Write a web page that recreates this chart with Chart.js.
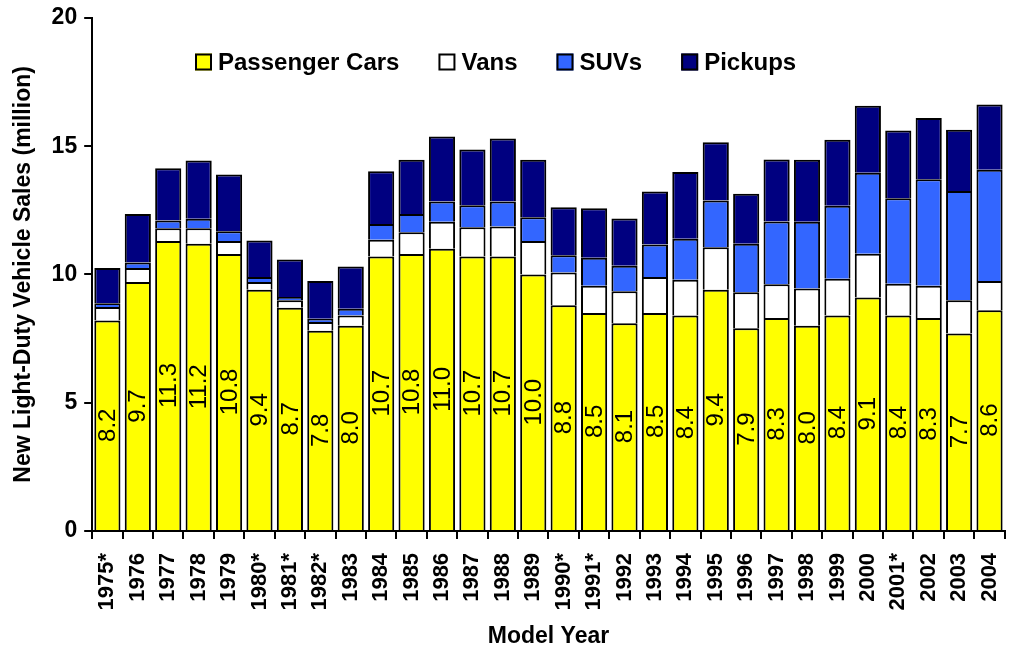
<!DOCTYPE html>
<html>
<head>
<meta charset="utf-8">
<script src="https://cdn.jsdelivr.net/npm/chart.js@4.4.1/dist/chart.umd.min.js"></script>
<style>
  html, body { margin: 0; padding: 0; background: #fff; overflow: hidden; }
  #wrap { width: 1030px; height: 652px; }
</style>
</head>
<body>
<div id="wrap"><canvas id="sales-chart"></canvas></div>
<script>
// LIGHT-DUTY VEHICLE SALES BY TYPE

const years = ['1975*', '1976', '1977', '1978', '1979', '1980*', '1981*', '1982*', '1983', '1984',
    '1985', '1986', '1987', '1988', '1989', '1990*', '1991*', '1992', '1993', '1994',
    '1995', '1996', '1997', '1998', '1999', '2000', '2001*', '2002', '2003', '2004'];

const passengerCars = [8.2, 9.7, 11.3, 11.2, 10.8, 9.4, 8.7, 7.8, 8.0, 10.7,
    10.8, 11.0, 10.7, 10.7, 10.0, 8.8, 8.5, 8.1, 8.5, 8.4,
    9.4, 7.9, 8.3, 8.0, 8.4, 9.1, 8.4, 8.3, 7.7, 8.6];

const vans = [0.53, 0.55, 0.5, 0.6, 0.5, 0.3, 0.29, 0.34, 0.4, 0.65,
    0.84, 1.05, 1.14, 1.17, 1.3, 1.27, 1.06, 1.24, 1.4, 1.39,
    1.66, 1.4, 1.32, 1.45, 1.43, 1.71, 1.24, 1.26, 1.29, 1.14];

const suvs = [0.15, 0.21, 0.3, 0.37, 0.38, 0.2, 0.13, 0.13, 0.26, 0.62,
    0.72, 0.79, 0.86, 0.97, 0.93, 0.68, 1.09, 1.0, 1.27, 1.6,
    1.82, 1.9, 2.44, 2.6, 2.85, 3.15, 3.33, 4.15, 4.26, 4.34];

const pickups = [1.37, 1.9, 2.04, 2.27, 2.22, 1.42, 1.46, 1.47, 1.65, 2.05,
    2.11, 2.54, 2.17, 2.46, 2.24, 1.87, 1.93, 1.84, 2.06, 2.6,
    2.27, 1.94, 2.42, 2.42, 2.57, 2.62, 2.64, 2.39, 2.39, 2.54];

const yTicks = [0, 5, 10, 15, 20];

const FONT = '"Liberation Sans", Arial, sans-serif';
Chart.defaults.font.family = FONT;
Chart.defaults.color = '#000';

// values written inside the yellow segments
const carLabels = {
    id: 'carLabels',
    afterDatasetsDraw(chart) {
        const ctx = chart.ctx;
        const meta = chart.getDatasetMeta(0);
        ctx.save();
        ctx.font = '24px ' + FONT;
        ctx.fillStyle = '#000';
        ctx.textAlign = 'center';
        ctx.textBaseline = 'middle';
        meta.data.forEach(function(bar, i) {
            ctx.save();
            ctx.translate(bar.x + 1, (bar.y + bar.base) / 2);
            ctx.rotate(-Math.PI / 2);
            ctx.fillText(passengerCars[i].toFixed(1), 0, 0);
            ctx.restore();
        });
        ctx.restore();
    }
};

// legend drawn inside the plot area, one row
const insideLegend = {
    id: 'insideLegend',
    afterDraw(chart) {
        const ctx = chart.ctx;
        let x = 195;
        const y = 62;
        ctx.save();
        ctx.font = 'bold 24px ' + FONT;
        ctx.textAlign = 'left';
        ctx.textBaseline = 'middle';
        chart.data.datasets.forEach(function(ds) {
            ctx.fillStyle = ds.backgroundColor;
            ctx.fillRect(x, y - 8.5, 17, 17);
            ctx.lineWidth = 2;
            ctx.strokeStyle = '#000';
            ctx.strokeRect(x + 1, y - 7.5, 15, 15);
            ctx.fillStyle = '#000';
            ctx.fillText(ds.label, x + 23, y + 1);
            x += 23 + ctx.measureText(ds.label).width + 39;
        });
        ctx.restore();
    }
};

function barSet(label, data, color) {
    return {
        label: label,
        data: data,
        backgroundColor: color,
        borderColor: '#000',
        borderWidth: 2,
        categoryPercentage: 1,
        barPercentage: 0.86
    };
}

const chart = new Chart(
    document.getElementById('sales-chart'), {
        type: 'bar',
        data: {
            labels: years,
            datasets: [
                barSet('Passenger Cars', passengerCars, '#ffff00'),
                barSet('Vans', vans, '#ffffff'),
                barSet('SUVs', suvs, '#3366ff'),
                barSet('Pickups', pickups, '#000080')
            ]
        },
        options: {
            responsive: true,
            maintainAspectRatio: false,
            animation: false,
            layout: {
                padding: { top: 10, right: 4, left: 0, bottom: 0 }
            },
            plugins: {
                legend: { display: false },
                tooltip: { enabled: false }
            },
            scales: {
                x: {
                    stacked: true,
                    border: { color: '#000', width: 2 },
                    grid: {
                        offset: true,
                        drawOnChartArea: false,
                        color: '#000',
                        lineWidth: 2,
                        tickLength: 8
                    },
                    ticks: {
                        minRotation: 90,
                        maxRotation: 90,
                        autoSkip: false,
                        padding: 14,
                        font: { size: 22, weight: 'bold' }
                    },
                    title: {
                        display: true,
                        text: 'Model Year',
                        padding: { top: -2, bottom: 2 },
                        font: { size: 23, weight: 'bold' }
                    }
                },
                y: {
                    stacked: true,
                    min: 0,
                    max: 20,
                    afterBuildTicks(scale) {
                        scale.ticks = yTicks.map(function(v) { return { value: v }; });
                    },
                    border: { color: '#000', width: 2 },
                    grid: {
                        drawOnChartArea: false,
                        color: '#000',
                        lineWidth: 2,
                        tickLength: 8
                    },
                    ticks: {
                        padding: 7,
                        font: { size: 23, weight: 'bold', lineHeight: 0.95 }
                    },
                    title: {
                        display: true,
                        text: 'New Light-Duty Vehicle Sales (million)',
                        padding: { top: 10, bottom: 7 },
                        font: { size: 23, weight: 'bold' }
                    }
                }
            }
        },
        plugins: [carLabels, insideLegend]
    }
);
</script>
</body>
</html>
